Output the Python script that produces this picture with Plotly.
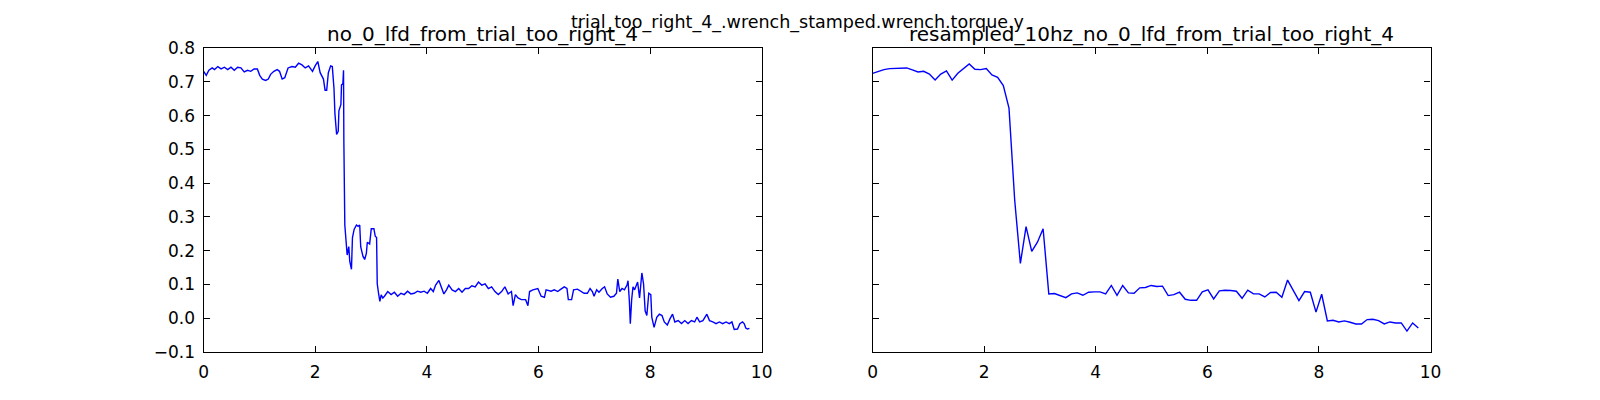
import plotly.graph_objects as go

# raw signal (left panel)
raw_t = [0.0, 0.047, 0.094, 0.153, 0.195, 0.254, 0.313, 0.372, 0.431, 0.49,
         0.549, 0.609, 0.668, 0.727, 0.786, 0.845, 0.904, 0.963, 1.005, 1.052,
         1.111, 1.159, 1.2, 1.259, 1.318, 1.36, 1.407, 1.454, 1.513, 1.584,
         1.643, 1.702, 1.762, 1.821, 1.880, 1.951, 1.998, 2.046, 2.088, 2.147,
         2.176, 2.205, 2.235, 2.276, 2.306, 2.336, 2.353, 2.383, 2.412, 2.424,
         2.460, 2.471, 2.495, 2.507, 2.513, 2.53, 2.572, 2.601, 2.619, 2.649,
         2.667, 2.697, 2.738, 2.768, 2.797, 2.815, 2.856, 2.886, 2.916, 2.933,
         2.975, 3.004, 3.051, 3.075, 3.099, 3.111, 3.134, 3.158, 3.182, 3.211,
         3.24, 3.3, 3.359, 3.418, 3.477, 3.536, 3.595, 3.654, 3.713, 3.773,
         3.832, 3.891, 3.950, 4.009, 4.068, 4.115, 4.157, 4.216, 4.257, 4.305,
         4.352, 4.393, 4.452, 4.512, 4.571, 4.630, 4.689, 4.748, 4.807, 4.866,
         4.925, 4.984, 5.043, 5.102, 5.161, 5.221, 5.280, 5.339, 5.398, 5.457,
         5.516, 5.546, 5.587, 5.634, 5.693, 5.77, 5.811, 5.841, 5.9, 5.989,
         6.048, 6.107, 6.137, 6.225, 6.285, 6.344, 6.403, 6.462, 6.511, 6.535,
         6.594, 6.629, 6.7, 6.759, 6.818, 6.877, 6.925, 6.966, 6.996, 7.043,
         7.084, 7.144, 7.185, 7.232, 7.291, 7.351, 7.398, 7.422, 7.457, 7.498,
         7.54, 7.587, 7.605, 7.629, 7.646, 7.67, 7.694, 7.723, 7.753, 7.777,
         7.812, 7.853, 7.883, 7.912, 7.942, 7.977, 8.013, 8.031, 8.072, 8.12,
         8.167, 8.214, 8.255, 8.309, 8.356, 8.403, 8.444, 8.504, 8.563, 8.622,
         8.681, 8.74, 8.799, 8.84, 8.888, 8.947, 9.018, 9.065, 9.124, 9.183,
         9.242, 9.302, 9.361, 9.42, 9.467, 9.508, 9.567, 9.609, 9.656, 9.686,
         9.715, 9.745, 9.78]
raw_v = [0.731, 0.719, 0.734, 0.741, 0.736, 0.745, 0.738, 0.743, 0.736, 0.743,
         0.734, 0.743, 0.741, 0.729, 0.734, 0.731, 0.738, 0.738, 0.719, 0.708,
         0.704, 0.708, 0.722, 0.731, 0.736, 0.731, 0.708, 0.712, 0.741, 0.745,
         0.743, 0.755, 0.750, 0.741, 0.747, 0.731, 0.747, 0.760, 0.727, 0.708,
         0.675, 0.675, 0.727, 0.747, 0.745, 0.680, 0.605, 0.544, 0.553, 0.614,
         0.633, 0.691, 0.694, 0.734, 0.520, 0.276, 0.187, 0.212, 0.168, 0.145,
         0.239, 0.263, 0.276, 0.272, 0.276, 0.211, 0.183, 0.174, 0.192, 0.225,
         0.220, 0.265, 0.265, 0.243, 0.239, 0.102, 0.074, 0.050, 0.069, 0.060,
         0.065, 0.079, 0.070, 0.077, 0.065, 0.074, 0.070, 0.080, 0.072, 0.074,
         0.080, 0.077, 0.080, 0.074, 0.088, 0.079, 0.098, 0.112, 0.093, 0.072,
         0.084, 0.098, 0.084, 0.079, 0.088, 0.077, 0.088, 0.088, 0.096, 0.093,
         0.107, 0.098, 0.102, 0.088, 0.093, 0.079, 0.070, 0.079, 0.093, 0.072,
         0.079, 0.037, 0.070, 0.060, 0.055, 0.055, 0.037, 0.079, 0.084, 0.088,
         0.065, 0.062, 0.084, 0.080, 0.084, 0.079, 0.086, 0.093, 0.088, 0.055,
         0.055, 0.084, 0.086, 0.080, 0.074, 0.074, 0.088, 0.079, 0.065, 0.084,
         0.077, 0.088, 0.093, 0.072, 0.062, 0.065, 0.074, 0.116, 0.079, 0.088,
         0.084, 0.098, 0.111, 0.051, -0.016, 0.055, 0.093, 0.084, 0.098, 0.107,
         0.060, 0.134, 0.102, 0.022, 0.008, 0.074, 0.070, 0.003, -0.027, 0.003,
         0.012, 0.008, -0.011, -0.020, -0.002, 0.012, -0.011, -0.007, -0.016, -0.007,
         -0.016, -0.007, -0.011, 0.003, -0.011, -0.007, 0.012, -0.007, -0.011, -0.016,
         -0.011, -0.016, -0.011, -0.016, -0.011, -0.033, -0.032, -0.016, -0.011, -0.016,
         -0.029, -0.032, -0.030]

# 10 Hz resampled signal (right panel)
res_t_end = 9.78
res_v = [0.725, 0.731, 0.736, 0.739, 0.740, 0.740, 0.741, 0.735, 0.729, 0.731,
         0.723, 0.705, 0.723, 0.732, 0.705, 0.725, 0.740, 0.753, 0.737, 0.736,
         0.739, 0.720, 0.713, 0.689, 0.622, 0.350, 0.162, 0.271, 0.198, 0.225,
         0.265, 0.072, 0.073, 0.068, 0.061, 0.072, 0.075, 0.068, 0.077, 0.078,
         0.078, 0.072, 0.097, 0.068, 0.097, 0.075, 0.074, 0.090, 0.091, 0.097,
         0.094, 0.095, 0.067, 0.070, 0.077, 0.056, 0.053, 0.053, 0.078, 0.084,
         0.057, 0.081, 0.083, 0.082, 0.080, 0.059, 0.083, 0.072, 0.072, 0.063,
         0.076, 0.077, 0.062, 0.113, 0.084, 0.052, 0.079, 0.077, 0.018, 0.071,
         -0.008, -0.006, -0.011, -0.008, -0.012, -0.017, -0.017, -0.004, -0.003, -0.007,
         -0.017, -0.011, -0.014, -0.014, -0.038, -0.014, -0.029]
res_t = [i * res_t_end / (len(res_v) - 1) for i in range(len(res_v))]

suptitle = "trial_too_right_4_.wrench_stamped.wrench.torque.y"
left_title = "no_0_lfd_from_trial_too_right_4"
right_title = "resampled_10hz_no_0_lfd_from_trial_too_right_4"

x_ticks = [0, 2, 4, 6, 8, 10]
y_ticks = [-0.1, 0.0, 0.1, 0.2, 0.3, 0.4, 0.5, 0.6, 0.7, 0.8]

blue = "#0000ff"
fig = go.Figure()
fig.add_trace(go.Scatter(x=raw_t, y=raw_v, mode="lines",
                         line=dict(color=blue, width=1.4), xaxis="x", yaxis="y"))
fig.add_trace(go.Scatter(x=res_t, y=res_v, mode="lines",
                         line=dict(color=blue, width=1.4), xaxis="x2", yaxis="y2"))

ax = dict(showgrid=False, zeroline=False, showline=True, linecolor="black",
          linewidth=1.3, mirror="ticks", ticks="inside", ticklen=6,
          tickcolor="black", tickwidth=1, ticklabelstandoff=4)
xax = dict(ax, range=[0, 10], tickvals=x_ticks, ticktext=[str(v) for v in x_ticks])
yax = dict(ax, range=[-0.1, 0.8], tickvals=y_ticks, tickformat=".1f")

fig.update_layout(
    width=1600, height=400,
    margin=dict(l=0, r=0, t=0, b=0),
    paper_bgcolor="white", plot_bgcolor="white",
    showlegend=False,
    font=dict(family="DejaVu Sans", size=17, color="black"),
    xaxis=dict(xax, domain=[0.1254, 0.4777], anchor="y"),
    yaxis=dict(yax, domain=[0.1, 0.9], anchor="x"),
    xaxis2=dict(xax, domain=[0.5477, 0.9], anchor="y2"),
    yaxis2=dict(yax, domain=[0.1, 0.9], anchor="x2", showticklabels=False),
)

titles = [(left_title, (0.1254 + 0.4777) / 2), (right_title, (0.5477 + 0.9) / 2)]
for text, xc in titles:
    fig.add_annotation(text=text, x=xc, y=0.9, xref="paper", yref="paper",
                       xanchor="center", yanchor="bottom", showarrow=False,
                       font=dict(size=20), borderpad=0, yshift=1)
fig.add_annotation(text=suptitle, x=0.5, y=0.98, xref="paper", yref="paper",
                   xanchor="center", yanchor="top", showarrow=False,
                   font=dict(size=17.5), borderpad=0, yshift=7)

# drop the page's default body margin so the 1600x400 figure fills the window
fig.write_html("out.html", config={"displayModeBar": False},
               post_script="document.body.style.margin = '0';")
